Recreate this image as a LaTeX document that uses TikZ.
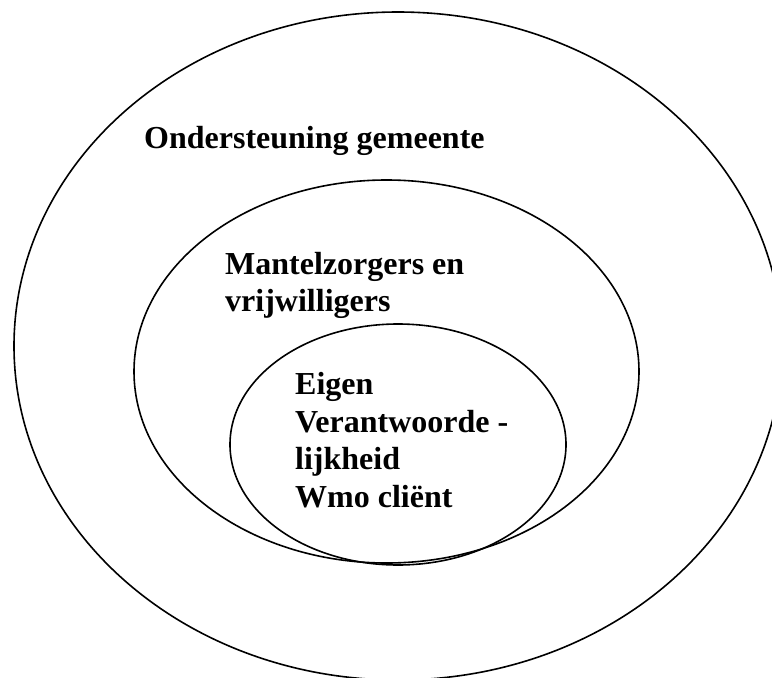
\documentclass[tikz,border=0pt]{standalone}
\usepackage{fontspec}
\setmainfont{Liberation Serif}
\begin{document}
\begin{tikzpicture}[x=1pt,y=-1pt,
  ring/.style={draw=black,line width=1.6pt},
  lbl/.style={anchor=base west,inner sep=0pt,font=\bfseries\fontsize{32}{38}\selectfont}]
\useasboundingbox (0,0) rectangle (772,678);
\draw[ring] (398,346) ellipse [x radius=384, y radius=334];
\draw[ring] (386.5,371.5) ellipse [x radius=252.5, y radius=191.5];
\draw[ring] (398,444.5) ellipse [x radius=168, y radius=120.5];
\node[lbl] (ond) at (144,148) {Ondersteuning gemeente};
\node[lbl] (man1) at (225,274) {Mantelzorgers en};
\node[lbl] (man2) at (225,311) {vrijwilligers};
\node[lbl] (eig1) at (295,394) {Eigen};
\node[lbl] (eig2) at (295,432) {Verantwoorde -};
\node[lbl] (eig3) at (295,469) {lijkheid};
\node[lbl] (eig4) at (295,507) {Wmo cliënt};
\end{tikzpicture}
\end{document}
